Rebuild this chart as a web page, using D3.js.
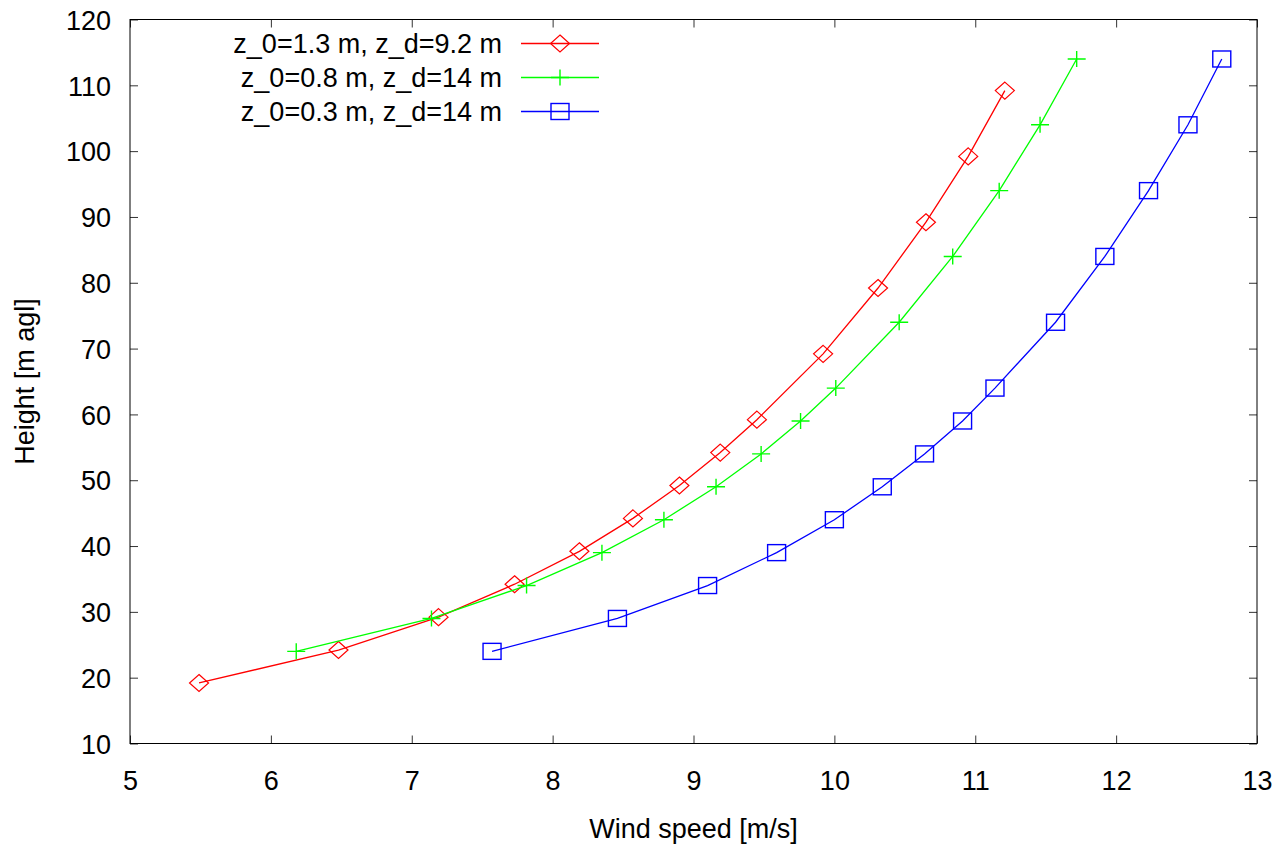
<!DOCTYPE html>
<html>
<head>
<meta charset="utf-8">
<script src="https://cdn.jsdelivr.net/npm/d3@7"></script>
<style>
  body { margin: 0; background: #fff; }
  text { font-family: "Liberation Sans", Arial, sans-serif; fill: #000; }
</style>
</head>
<body>
<div class="chart"></div>
<script>
// wind profiles
const seriesNames = ["z_0=1.3 m, z_d=9.2 m", "z_0=0.8 m, z_d=14 m", "z_0=0.3 m, z_d=14 m"];

const heightRed = [19.2, 24.2, 29.2, 34.2, 39.2, 44.2, 49.2, 54.2, 59.2, 69.2, 79.2, 89.2, 99.2, 109.2];
const speedRed = [5.49, 6.48, 7.19, 7.73, 8.19, 8.57, 8.90, 9.19, 9.45, 9.92, 10.31, 10.65, 10.95, 11.21];

const heightGreen = [24, 29, 34, 39, 44, 49, 54, 59, 64, 74, 84, 94, 104, 114];
const speedGreen = [6.18, 7.14, 7.815, 8.35, 8.79, 9.16, 9.48, 9.76, 10.01, 10.46, 10.84, 11.17, 11.46, 11.72];

const heightBlue = [24, 29, 34, 39, 44, 49, 54, 59, 64, 74, 84, 94, 104, 114];
const speedBlue = [7.57, 8.46, 9.10, 9.59, 10.0, 10.34, 10.64, 10.91, 11.14, 11.57, 11.92, 12.23, 12.51, 12.75];

const xTicks = [5, 6, 7, 8, 9, 10, 11, 12, 13];
const yTicks = [10, 20, 30, 40, 50, 60, 70, 80, 90, 100, 110, 120];

const W = 1277, H = 848;
const plotLeft = 130, plotRight = 1257, plotTop = 19.5, plotBottom = 743.5;
const fontSize = 27;

const svg = d3.select(".chart").append("svg")
  .attr("width", W)
  .attr("height", H);

const x = d3.scaleLinear().domain([5, 13]).range([plotLeft, plotRight]);
const y = d3.scaleLinear().domain([10, 120]).range([plotBottom, plotTop]);

// ticks, all pointing in
const gx = svg.append("g").attr("transform", `translate(0,${plotBottom})`)
  .call(d3.axisBottom(x).tickValues(xTicks).tickSize(-8).tickPadding(27).tickFormat(d3.format("d")));
const gxTop = svg.append("g").attr("transform", `translate(0,${plotTop})`)
  .call(d3.axisTop(x).tickValues(xTicks).tickSize(-8).tickFormat(""));
const gy = svg.append("g").attr("transform", `translate(${plotLeft},0)`)
  .call(d3.axisLeft(y).tickValues(yTicks).tickSize(-8).tickPadding(19).tickFormat(d3.format("d")));
const gyRight = svg.append("g").attr("transform", `translate(${plotRight},0)`)
  .call(d3.axisRight(y).tickValues(yTicks).tickSize(-8).tickFormat(""));

[gx, gxTop, gy, gyRight].forEach(g => {
  g.select(".domain").remove();
  g.selectAll(".tick line").attr("stroke", "#333").attr("stroke-width", 1);
  g.selectAll("text").attr("font-size", fontSize).attr("font-family", null).attr("fill", "#000");
});
gy.selectAll("text").attr("dy", "0.36em");

// border box
svg.append("rect")
  .attr("x", plotLeft).attr("y", plotTop)
  .attr("width", plotRight - plotLeft).attr("height", plotBottom - plotTop)
  .attr("fill", "none").attr("stroke", "#000").attr("stroke-width", 1);

// axis titles
svg.append("text")
  .attr("x", (plotLeft + plotRight) / 2).attr("y", 838)
  .attr("text-anchor", "middle").attr("font-size", fontSize)
  .text("Wind speed [m/s]");

svg.append("text")
  .attr("transform", `translate(34,${(plotTop + plotBottom) / 2}) rotate(-90)`)
  .attr("text-anchor", "middle").attr("font-size", fontSize)
  .text("Height [m agl]");

const series = [
  { name: seriesNames[0], color: "#ff0000", marker: "diamond", pts: d3.zip(speedRed, heightRed) },
  { name: seriesNames[1], color: "#00ff00", marker: "plus", pts: d3.zip(speedGreen, heightGreen) },
  { name: seriesNames[2], color: "#0000ff", marker: "square", pts: d3.zip(speedBlue, heightBlue) }
];

const line = d3.line().x(d => x(d[0])).y(d => y(d[1]));

function drawMarker(g, type, color) {
  if (type === "diamond") {
    g.append("path").attr("d", "M0,-8.5L9.5,0L0,8.5L-9.5,0Z")
      .attr("fill", "none").attr("stroke", color).attr("stroke-width", 1.2);
  } else if (type === "plus") {
    g.append("path").attr("d", "M-9,0H9M0,-8V8")
      .attr("fill", "none").attr("stroke", color).attr("stroke-width", 1.4);
  } else {
    g.append("rect").attr("x", -9).attr("y", -8).attr("width", 18).attr("height", 16)
      .attr("fill", "none").attr("stroke", color).attr("stroke-width", 1.4);
  }
}

series.forEach(s => {
  svg.append("path")
    .datum(s.pts)
    .attr("d", line)
    .attr("fill", "none")
    .attr("stroke", s.color)
    .attr("stroke-width", 1.3);

  svg.append("g").selectAll("g")
    .data(s.pts)
    .enter().append("g")
    .attr("transform", d => `translate(${x(d[0])},${y(d[1])})`)
    .each(function() { drawMarker(d3.select(this), s.marker, s.color); });
});

// legend
const legend = svg.append("g");
series.forEach((s, i) => {
  const ly = 43.5 + i * 34;
  legend.append("text")
    .attr("x", 502).attr("y", ly).attr("dy", "0.36em")
    .attr("text-anchor", "end").attr("font-size", fontSize)
    .text(s.name);
  legend.append("line")
    .attr("x1", 521).attr("x2", 599).attr("y1", ly).attr("y2", ly)
    .attr("stroke", s.color).attr("stroke-width", 1.3);
  const m = legend.append("g").attr("transform", `translate(560,${ly})`);
  drawMarker(m, s.marker, s.color);
});
</script>
</body>
</html>
